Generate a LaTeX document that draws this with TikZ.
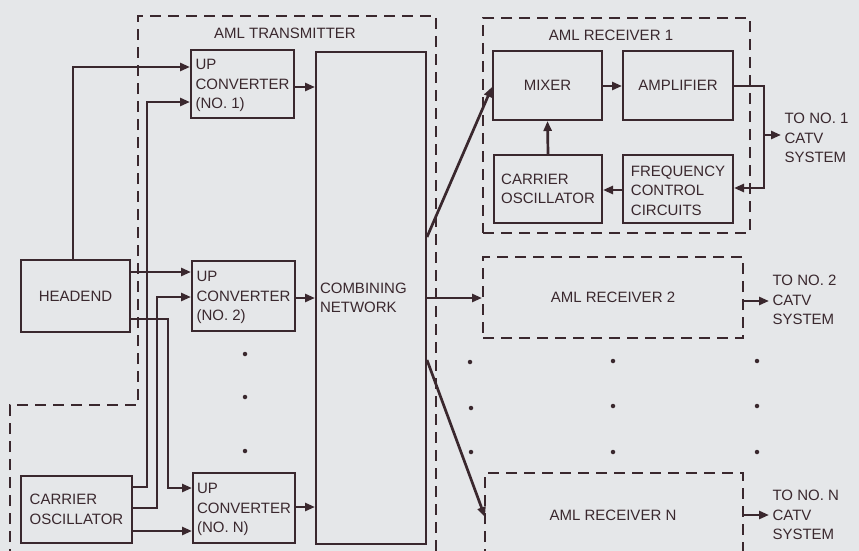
\documentclass[tikz,border=0pt]{standalone}
\usepackage{fontspec}
\setmainfont{Liberation Sans}
\usetikzlibrary{arrows.meta,calc}
\definecolor{bg}{RGB}{229,231,233}
\definecolor{ink}{RGB}{58,40,46}
\begin{document}
\begin{tikzpicture}[x=1pt,y=-1pt,
  every node/.style={text=ink,font=\fontsize{15}{19.5}\selectfont},
  blk/.style={draw=ink,line width=2pt,align=left,inner sep=0pt},
  dsh/.style={draw=ink,line width=2pt,dash pattern=on 11pt off 7pt},
  con/.style={draw=ink,line width=2.7pt},
  arr/.style={con,-{Triangle[length=10pt,width=8pt]}},
  dotm/.style={fill=ink,circle,inner sep=0pt,minimum size=4.5pt}]
\fill[bg] (0,0) rectangle (859,551);
\useasboundingbox (0,0) rectangle (859,551);
\clip (0,0) rectangle (859,551);
% dashed enclosures
\draw[dsh] (10,560) -- (10,405) -- (138,405) -- (138,16) -- (436,16) -- (436,560);
\node[dsh,minimum width=267pt,minimum height=215pt,inner sep=0pt] (rcv1) at (616.5,125.5) {};
\node[dsh,minimum width=260pt,minimum height=81pt,inner sep=0pt] (rcv2) at (613,297.5) {AML RECEIVER 2};
\draw[dsh] (485,560) -- (485,473) coordinate (rcvnw) -- (743,473) -- (743,560);
\coordinate (rcvnin) at (485,517);
\coordinate (rcvnout) at (743,515);
\node (rcvnt) at (613,515) {AML RECEIVER N};
% labels
\node (tlab) at (285,33) {AML TRANSMITTER};
\node (rlab) at (611,35) {AML RECEIVER 1};
% transmitter blocks
\node[blk,minimum width=103pt,minimum height=68pt] (uc1) at (242.5,84) {\strut UP\\CONVERTER\\(NO. 1)};
\node[blk,minimum width=103pt,minimum height=70pt] (uc2) at (243.5,296) {\strut UP\\CONVERTER\\(NO. 2)};
\node[blk,minimum width=102pt,minimum height=70pt] (ucn) at (244,508) {\strut UP\\CONVERTER\\(NO. N)};
\node[blk,minimum width=109pt,minimum height=72pt] (hd) at (75.5,296) {HEADEND};
\node[blk,minimum width=111pt,minimum height=67pt] (osc) at (76.5,509.5) {CARRIER\\OSCILLATOR};
\node[blk,minimum width=110pt,minimum height=492pt,text width=102pt] (comb) at (371,298) {COMBINING\\NETWORK};
% receiver 1 blocks
\node[blk,minimum width=109pt,minimum height=69pt] (mix) at (547.5,85.5) {MIXER};
\node[blk,minimum width=110pt,minimum height=69pt] (amp) at (678,85.5) {AMPLIFIER};
\node[blk,minimum width=108pt,minimum height=68pt] (rosc) at (548,189) {CARRIER\\OSCILLATOR};
\node[blk,minimum width=110pt,minimum height=68pt] (fcc) at (678,189) {\strut FREQUENCY\\CONTROL\\CIRCUITS};
% outputs text
\node[anchor=west,align=left] (t1) at (781,138) {TO NO. 1\\CATV\\SYSTEM};
\node[anchor=west,align=left] (t2) at (769,300) {TO NO. 2\\CATV\\SYSTEM};
\node[anchor=west,align=left] (tn) at (769,515) {TO NO. N\\CATV\\SYSTEM};
% left wiring
\draw[arr] (hd.north -| 73,0) -- (73,67) -- (uc1.west |- 0,67);
\draw[arr] (osc.east |- 0,487) -- (147,487) -- (147,102) -- (uc1.west |- 0,102);
\draw[arr] (hd.east |- 0,272) -- (uc2.west |- 0,272);
\draw[arr] (osc.east |- 0,508) -- (157,508) -- (157,297) -- (uc2.west |- 0,297);
\draw[arr] (hd.east |- 0,319) -- (168,319) -- (168,488) -- (ucn.west |- 0,488);
\draw[arr] (osc.east |- 0,531) -- (ucn.west |- 0,531);
% converters to combining network
\draw[arr] (uc1.east |- 0,87) -- (comb.west |- 0,87);
\draw[arr] (uc2.east |- 0,298) -- (comb.west |- 0,298);
\draw[arr] (ucn.east |- 0,507) -- (comb.west |- 0,507);
% combining network outputs
\draw[arr] (comb.east |- 0,237) -- (mix.west |- 0,87);
\draw[arr] (comb.east |- 0,298) -- (rcv2.west |- 0,298);
\draw[arr] (comb.east |- 0,360) -- (rcvnin);
% receiver 1 internal
\draw[arr] (mix.east |- 0,86) -- (amp.west |- 0,86);
\draw[arr] (rosc.north) -- (mix.south);
\draw[arr] (fcc.west |- 0,190) -- (rosc.east |- 0,190);
\draw[arr] (amp.east |- 0,86) -- (764,86) -- (764,188) -- (fcc.east |- 0,188);
\draw[arr] (764,135) -- (t1.west |- 0,135);
% receivers 2 and N outputs
\draw[arr] (rcv2.east |- 0,301) -- (t2.west |- 0,301);
\draw[arr] (rcvnout) -- (tn.west |- 0,515);
% dots
\foreach \x/\y [count=\i] in {245/354,245/397,245/451,470/362,471/408,471/452,613/361,613/406,613/452,757/361,757/406,757/452}
  \node[dotm] (d\i) at (\x,\y) {};
\end{tikzpicture}
\end{document}
